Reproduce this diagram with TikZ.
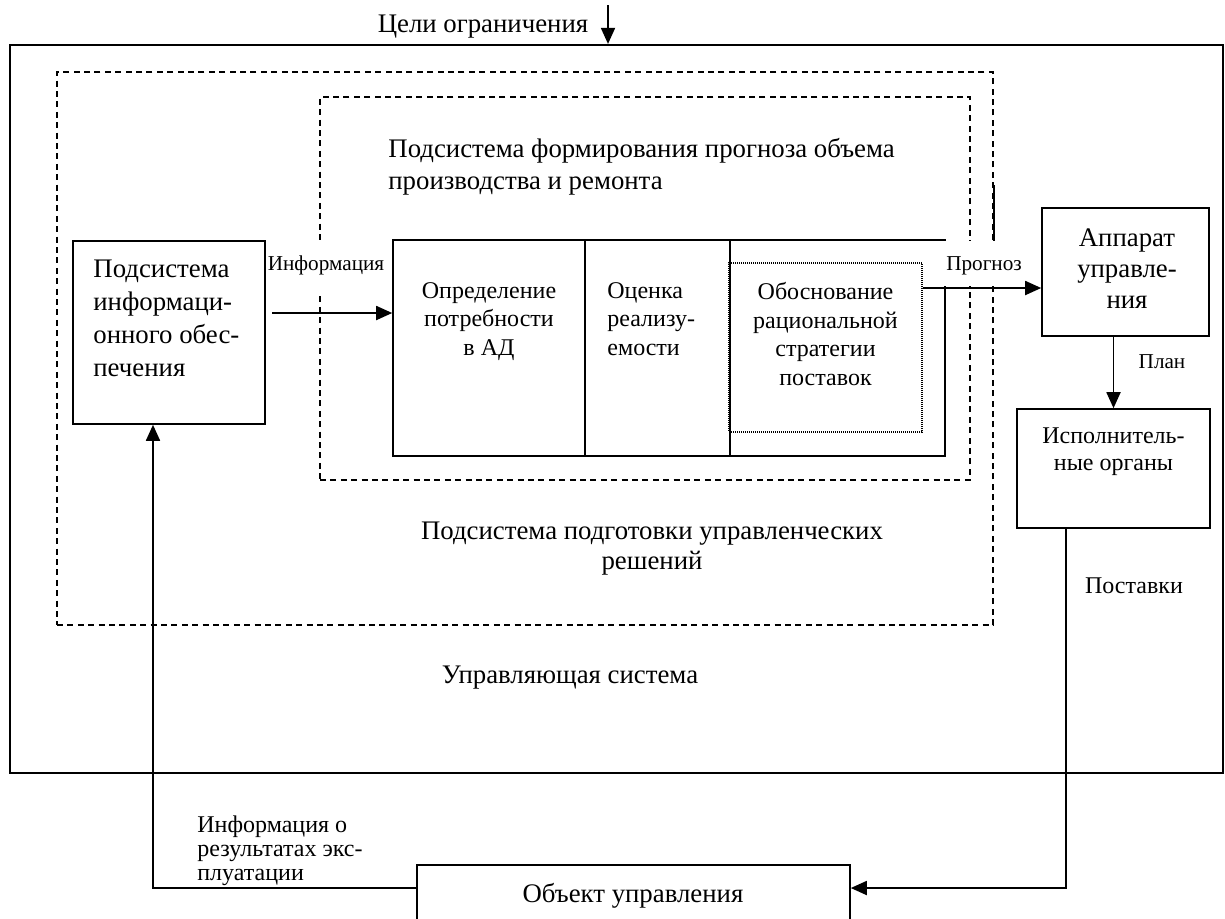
\documentclass[tikz,border=0pt]{standalone}
\usepackage{fontspec}
\setmainfont{Liberation Serif}
\usetikzlibrary{arrows.meta,positioning,calc}

\tikzset{
  frame/.style={draw, line width=1.1pt, inner sep=0pt},
  box/.style={draw, line width=0.8pt, inner sep=0pt},
  dashbox/.style={draw, line width=0.7pt, dash pattern=on 3pt off 2.2pt, inner sep=0pt},
  dotbox/.style={draw, line width=0.6pt, dash pattern=on 0.5pt off 0.5pt, inner sep=0pt},
  arr/.style={line width=0.9pt, -{Triangle[length=8pt,width=7pt]}},
  bigtext/.style={inner sep=0pt, font=\fontsize{13.4}{16}\selectfont},
  midtext/.style={inner sep=0pt, font=\fontsize{12}{14.5}\selectfont},
  smalltext/.style={inner sep=0pt, font=\fontsize{10.6}{12.5}\selectfont},
}

\begin{document}
\begin{tikzpicture}[x=0.5pt, y=-0.5pt]
  \useasboundingbox (0,0) rectangle (1225,918);
  \clip (0,0) rectangle (1225,918);

  % control system
  \node[frame, minimum width=606.5pt, minimum height=364pt] (sys) at (616.5,409) {};
  \node[bigtext, anchor=base] (systitle) at (570,683) {Управляющая система};

  % goals coming in from above
  \node[bigtext, anchor=base] (goals) at (483,32) {Цели ограничения};
  \coordinate (goalin) at (608,5);
  \draw[arr] (goalin) -- (goalin |- sys.north);

  % decision preparation subsystem
  \node[dashbox, minimum width=468pt, minimum height=276.5pt] (prep) at (525,348.5) {};
  \draw[line width=0.8pt] (prep.north east |- 0,185) -- (prep.north east |- 0,241);
  \node[bigtext, anchor=north, align=center, font=\fontsize{13.4}{15}\selectfont] (preptitle) at (652,522)
    {Подсистема подготовки управленческих\\решений};

  % forecast subsystem
  \node[dashbox, minimum width=325pt, minimum height=191.5pt] (fcst) at (645,288.5) {};
  \node[bigtext, anchor=north west, align=left] (fcsttitle) at (388,138)
    {Подсистема формирования прогноза объема\\производства и ремонта};

  % information subsystem
  \node[box, minimum width=96pt, minimum height=91.5pt] (infosub) at (169,332.5) {};
  \node[bigtext, anchor=north west, align=left, font=\fontsize{13.4}{16.5}\selectfont] (infotext) at (93,260)
    {Подсистема\\информаци-\\онного обес-\\печения};

  % three stages
  \node[box, minimum width=96pt, minimum height=108pt] (need) at (489,348) {};
  \node[box, minimum width=72.5pt, minimum height=108pt] (eval) at (657.5,348) {};
  \node[box, minimum width=107.5pt, minimum height=108pt] (strat) at (837.5,348) {};
  \node[dotbox, minimum width=96.5pt, minimum height=84.5pt] (dots) at (825.5,347.5) {};
  \node[midtext, anchor=north, align=center, font=\fontsize{12}{14.25}\selectfont] (needtext) at (need.center |- 0,282)
    {Определение\\потребности\\в АД};
  \node[midtext, anchor=north west, align=left, font=\fontsize{12}{14.25}\selectfont] (evaltext) at (607,282)
    {Оценка\\реализу-\\емости};
  \node[midtext, anchor=north, align=center, font=\fontsize{12}{14.25}\selectfont] (strattext) at (dots.center |- 0,282)
    {Обоснование\\рациональной\\стратегии\\поставок};

  % information flow
  \coordinate (infoout) at (272,313);
  \draw[arr] (infoout) -- (infoout -| need.west);
  \node[smalltext, anchor=base, fill=white, inner xsep=1pt, text height=14.5pt, text depth=12pt] (infolabel) at (326,270) {Информация};

  % management apparatus
  \node[box, minimum width=83.5pt, minimum height=64pt] (app) at (1125.5,272) {};
  \node[bigtext, anchor=north, align=center, font=\fontsize{13.4}{15.5}\selectfont] (apptext) at (1127,228)
    {Аппарат\\управле-\\ния};
  \coordinate (fcstout) at (dots.east |- 0,288);
  \draw[arr] (fcstout) -- (fcstout -| app.west);
  \node[smalltext, anchor=base, fill=white, inner xsep=1pt, text height=14.5pt, text depth=8pt] (fcstlabel) at (984,270) {Прогноз};

  % executive bodies
  \node[box, minimum width=96.5pt, minimum height=59.5pt] (exec) at (1113.5,468.5) {};
  \node[midtext, anchor=north, align=center, font=\fontsize{12}{13.5}\selectfont] (exectext) at (1113.5,427)
    {Исполнитель-\\ные органы};
  \draw[arr] (app.south -| exec.north) -- (exec.north);
  \node[smalltext, anchor=base] (planlabel) at (1162,368) {План};

  % controlled object
  \node[box, minimum width=216.5pt, minimum height=40pt] (obj) at (633.5,905) {};
  \node[bigtext, anchor=base] (objtext) at (633,902) {Объект управления};

  % supplies
  \coordinate (supturn) at (1066,888);
  \draw[arr] (exec.south -| supturn) -- (supturn) -- (supturn -| obj.east);
  \node[midtext, anchor=base] (suplabel) at (1134,593) {Поставки};

  % feedback
  \coordinate (fbturn) at (153,888);
  \draw[arr] (fbturn -| obj.west) -- (fbturn) -- (fbturn |- infosub.south);
  \node[midtext, anchor=north west, align=left, font=\fontsize{12}{12}\selectfont] (fblabel) at (197,815)
    {Информация о\\результатах экс-\\плуатации};
\end{tikzpicture}
\end{document}
